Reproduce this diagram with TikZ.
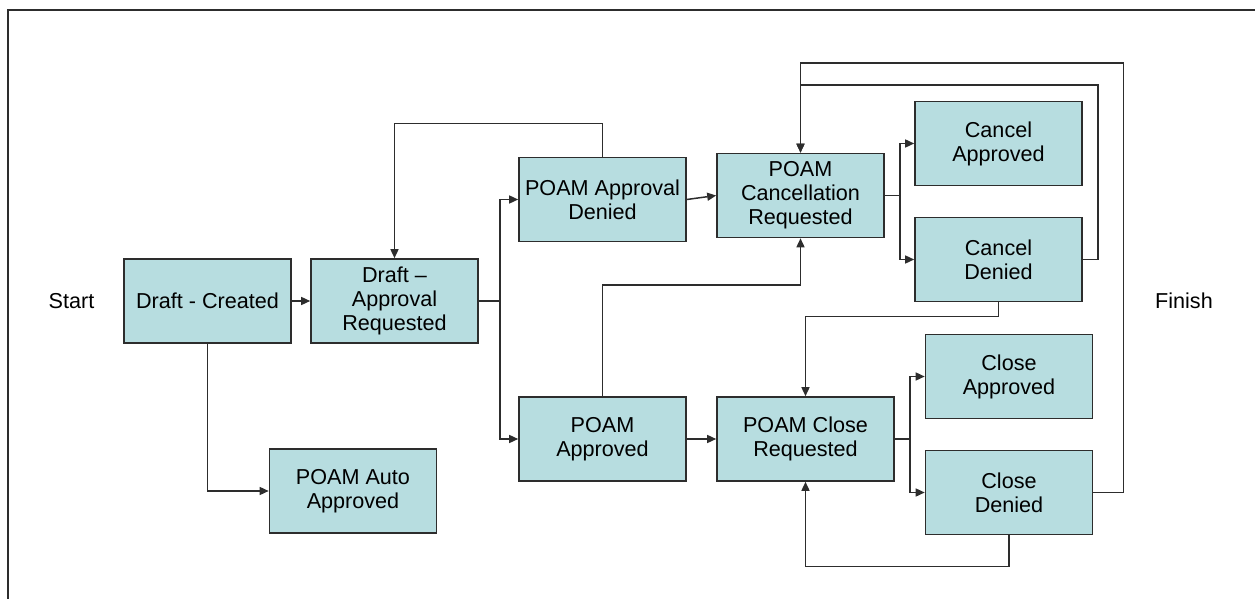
\documentclass[tikz,border=0pt]{standalone}
\usepackage{fontspec}
\setmainfont{Liberation Sans}
\usetikzlibrary{positioning,calc,arrows.meta}

\definecolor{boxfill}{RGB}{183,221,224}
\definecolor{linegray}{RGB}{45,45,45}

\begin{document}
\begin{tikzpicture}[x=0.5pt, y=-0.5pt,
    statebox/.style={draw=linegray, line width=0.8pt, fill=boxfill,
        minimum width=83.5pt, minimum height=42pt, inner sep=0pt,
        align=center, font=\fontsize{10.8}{12}\selectfont},
    plain/.style={font=\fontsize{10.8}{12}\selectfont},
    arr/.style={draw=linegray, line width=0.75pt, -{Triangle[length=4.5pt,width=4pt]}},
    wire/.style={draw=linegray, line width=0.75pt}]
    % 定义画布大小
    \def\picwidth{1255}
    \def\picheight{599}
    \useasboundingbox (0,0) rectangle (\picwidth,\picheight);

    % 外框(只有左边和上边)
    \draw[linegray, line width=1pt] (8,\picheight) -- (8,10) -- (\picwidth,10);

    % 起点和终点文字
    \node[plain] (start) at (71.5,301) {Start};
    \node[plain] (finish) at (1184,301) {Finish};

    % 状态方框
    \node[statebox] (created) at (207.5,301) {Draft - Created};
    \node[statebox] (apprreq) at (394.5,301) {Draft –\\Approval\\Requested};
    \node[statebox] (auto) at (353,491) {POAM Auto\\Approved};
    \node[statebox] (denied) at (602.5,199.5) {POAM Approval\\Denied};
    \node[statebox] (approved) at (602.5,439) {POAM\\Approved};
    \node[statebox] (cancelreq) at (800.5,195.5) {POAM\\Cancellation\\Requested};
    \node[statebox, minimum width=88.5pt] (closereq) at (805.5,439) {POAM Close\\Requested};
    \node[statebox] (cancelok) at (998.5,143.5) {Cancel\\Approved};
    \node[statebox] (canceldn) at (998.5,259.5) {Cancel\\Denied};
    \node[statebox] (closeok) at (1009,376.5) {Close\\Approved};
    \node[statebox] (closedn) at (1009,492.5) {Close\\Denied};

    % 从 Draft - Created 出发
    \draw[arr] (created) -- (apprreq);
    \draw[arr] (created.south) |- (auto.west);

    % 审批请求的分支
    \draw[wire] (apprreq.east) -- ++(21,0) coordinate (fork1);
    \draw[arr] (fork1) |- (denied.west);
    \draw[arr] (fork1) |- (approved.west);

    % 审批被拒后返回
    \draw[arr] (denied.north) -- ++(0,-33) -| (apprreq.north);

    % 取消请求
    \draw[arr] (denied.east) -- (cancelreq.west);
    \draw[arr] (approved.north) -- ++(0,-111) -| (cancelreq.south);
    \draw[wire] (cancelreq.east) -- ++(15,0) coordinate (fork2);
    \draw[arr] (fork2) |- (cancelok.west);
    \draw[arr] (fork2) |- (canceldn.west);

    % 关闭请求
    \draw[arr] (approved) -- (closereq);
    \draw[wire] (closereq.east) -- ++(15,0) coordinate (fork3);
    \draw[arr] (fork3) |- (closeok.west);
    \draw[arr] (fork3) |- (closedn.west);

    % 被拒后的回路
    \draw[arr] (canceldn.east) -- ++(15,0) -- ++(0,-174.5) -| (cancelreq.north);
    \draw[arr] (closedn.east) -- ++(30,0) -- ++(0,-429.5) -| (cancelreq.north);
    \draw[arr] (canceldn.south) -- ++(0,14) -| (closereq.north);
    \draw[arr] (closedn.south) -- ++(0,31) -| (closereq.south);

\end{tikzpicture}
\end{document}
